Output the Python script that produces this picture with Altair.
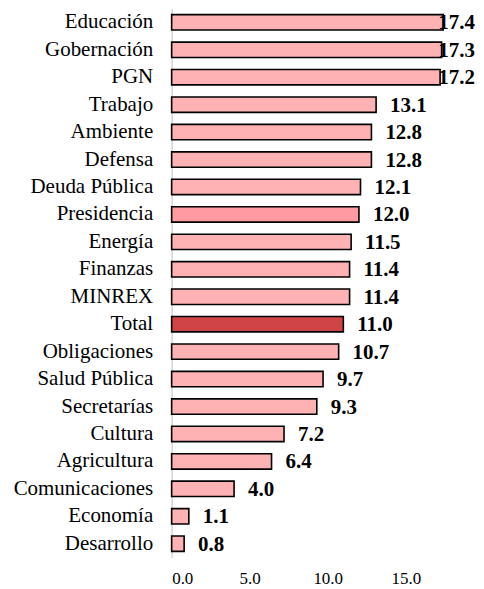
import altair as alt
import pandas as pd

categories = ["Educación", "Gobernación", "PGN", "Trabajo", "Ambiente", "Defensa",
              "Deuda Pública", "Presidencia", "Energía", "Finanzas", "MINREX", "Total",
              "Obligaciones", "Salud Pública", "Secretarías", "Cultura", "Agricultura",
              "Comunicaciones", "Economía", "Desarrollo"]
values = [17.4, 17.3, 17.2, 13.1, 12.8, 12.8, 12.1, 12.0, 11.5, 11.4, 11.4, 11.0,
          10.7, 9.7, 9.3, 7.2, 6.4, 4.0, 1.1, 0.8]
groups = ["base"] * 7 + ["pres"] + ["base"] * 3 + ["total"] + ["base"] * 8
tick_values = [0, 5, 10, 15]

df = pd.DataFrame({"cat": categories, "val": values, "grp": groups})

FONT = "Liberation Serif"
W = 305

y_enc = alt.Y("cat:N", sort=categories, title=None,
              scale=alt.Scale(paddingInner=0.44, paddingOuter=0.22),
              axis=alt.Axis(labelFont=FONT, labelFontSize=21, labelColor="#000000",
                            labelPadding=19, ticks=False, domain=True,
                            domainColor="#d4d4d4", domainWidth=1.5, grid=False))
x_enc = alt.X("val:Q", title=None,
              scale=alt.Scale(domain=[0, 19.5], nice=False, zero=True),
              axis=alt.Axis(values=tick_values, format=".1f", labelFont=FONT,
                            labelFontSize=17, labelColor="#000000", ticks=False,
                            domain=False, grid=False, labelPadding=13))

bars = alt.Chart(df).mark_bar(stroke="#000000", strokeWidth=1.6).encode(
    y=y_enc, x=x_enc,
    color=alt.Color("grp:N", legend=None,
                    scale=alt.Scale(domain=["base", "pres", "total"],
                                    range=["#FFB2B4", "#FF9AA0", "#D04446"])))

labels_out = alt.Chart(df).transform_filter("datum.val < 17").mark_text(
    align="left", baseline="middle", dx=14, dy=1, font=FONT, fontSize=21,
    fontWeight="bold", color="#000000").encode(
    y=alt.Y("cat:N", sort=categories), x="val:Q", text=alt.Text("val:Q", format=".1f"))

labels_edge = alt.Chart(df).transform_filter("datum.val >= 17").mark_text(
    align="right", baseline="middle", dx=-1, dy=1, font=FONT, fontSize=21,
    fontWeight="bold", color="#000000").encode(
    y=alt.Y("cat:N", sort=categories), x=alt.value(W),
    text=alt.Text("val:Q", format=".1f"))

chart = (bars + labels_out + labels_edge).properties(
    width=W, height=550,
    autosize=alt.AutoSizeParams(type="none"),
    padding={"left": 164, "top": 0, "right": 0, "bottom": 30},
).configure_view(stroke=None)

chart.save("out.html", embed_options={"renderer": "svg", "actions": False})
